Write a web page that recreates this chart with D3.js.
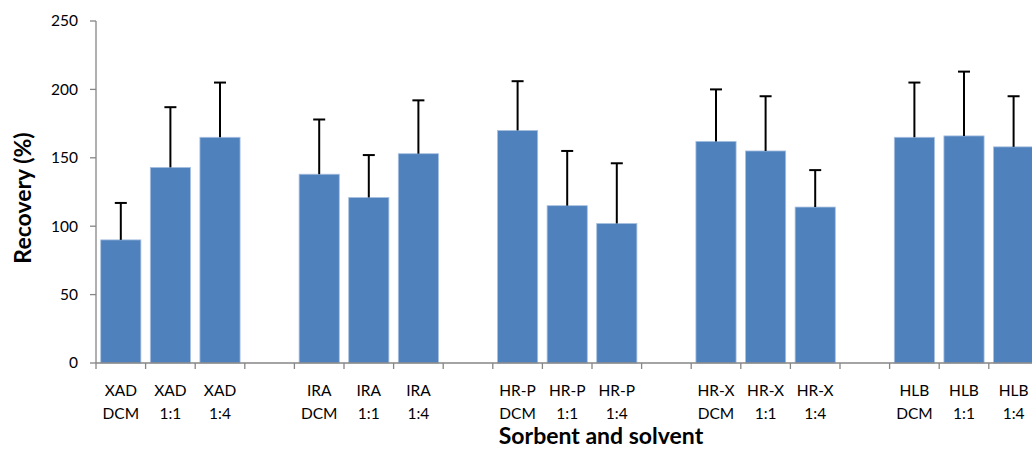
<!DOCTYPE html>
<html>
<head>
<meta charset="utf-8">
<script src="https://cdn.jsdelivr.net/npm/d3@7"></script>
<style>
  html, body { margin: 0; padding: 0; background: #fff; }
  svg { display: block; }
  text { font-family: Lato, "Open Sans", sans-serif; fill: #000; }
</style>
</head>
<body>
<svg id="chart" width="1032" height="451"></svg>
<script>
// ---- data ----
const sorbents = ["XAD", "IRA", "HR-P", "HR-X", "HLB"];
const solvents = ["DCM", "1:1", "1:4"];
const recovery = [
  90, 143, 165,
  138, 121, 153,
  170, 115, 102,
  162, 155, 114,
  165, 166, 158
];
const errorUp = [
  27, 44, 40,
  40, 31, 39,
  36, 40, 44,
  38, 40, 27,
  40, 47, 37
];
const yTicks = [0, 50, 100, 150, 200, 250];

// ---- build categories (with empty slots between groups) ----
const cats = [];
sorbents.forEach((s, gi) => {
  solvents.forEach((v, si) => {
    const i = gi * solvents.length + si;
    cats.push({ key: s + " " + v, top: s, bottom: v, value: recovery[i], err: errorUp[i] });
  });
  if (gi < sorbents.length - 1) cats.push({ key: "gap" + gi, top: "", bottom: "", value: null, err: null });
});

const svg = d3.select("#chart");
const x0 = 96, y0 = 363, yTop = 21;
const step = 49.6;
const pad = 0.19;
const x = d3.scaleBand()
  .domain(cats.map(d => d.key))
  .range([x0, x0 + step * cats.length])
  .paddingInner(pad)
  .paddingOuter(pad / 2);
const y = d3.scaleLinear().domain([0, 250]).range([y0, yTop]);

const axisColor = "#868686";

// y axis
svg.append("line").attr("x1", x0).attr("x2", x0).attr("y1", y(250)).attr("y2", y0)
  .attr("stroke", axisColor).attr("stroke-width", 1.3);
const yt = svg.append("g");
yTicks.forEach(t => {
  yt.append("line").attr("x1", x0 - 6).attr("x2", x0).attr("y1", y(t)).attr("y2", y(t))
    .attr("stroke", axisColor).attr("stroke-width", 1.3);
  yt.append("text").attr("x", 78).attr("y", y(t)).attr("dy", "0.35em")
    .attr("text-anchor", "end").attr("font-size", 15.5).text(t);
});

// bars
const bars = cats.filter(d => d.value !== null);
svg.append("g").selectAll("rect").data(bars).join("rect")
  .attr("x", d => x(d.key))
  .attr("width", x.bandwidth())
  .attr("y", d => y(d.value))
  .attr("height", d => y0 - y(d.value))
  .attr("fill", "#4f81bd")
  .attr("stroke", "#a9c1e0")
  .attr("stroke-width", 0.8);

// error bars (upper only)
const eg = svg.append("g").attr("stroke", "#000").attr("stroke-width", 2);
bars.forEach(d => {
  const cx = x(d.key) + x.bandwidth() / 2;
  eg.append("line").attr("x1", cx).attr("x2", cx).attr("y1", y(d.value)).attr("y2", y(d.value + d.err));
  eg.append("line").attr("x1", cx - 6).attr("x2", cx + 6).attr("y1", y(d.value + d.err)).attr("y2", y(d.value + d.err));
});

// x axis
svg.append("line").attr("x1", x0).attr("x2", 1032).attr("y1", y0).attr("y2", y0)
  .attr("stroke", axisColor).attr("stroke-width", 1.3);
const xt = svg.append("g");
const bounds = [x0].concat(cats.map(d => x(d.key) + x.bandwidth() + x.step() * pad / 2));
bounds.forEach(b => {
  xt.append("line").attr("x1", b).attr("x2", b).attr("y1", y0).attr("y2", y0 + 6)
    .attr("stroke", axisColor).attr("stroke-width", 1.3);
});
cats.forEach(d => {
  if (!d.top) return;
  const cx = x(d.key) + x.bandwidth() / 2;
  const t = xt.append("text").attr("text-anchor", "middle").attr("font-size", 15.5);
  t.append("tspan").attr("x", cx).attr("y", 396).text(d.top);
  t.append("tspan").attr("x", cx).attr("y", 418.5).text(d.bottom);
});

// titles
svg.append("text").attr("x", 601).attr("y", 444).attr("text-anchor", "middle")
  .attr("font-size", 23).attr("font-weight", "bold").text("Sorbent and solvent");
svg.append("text").attr("transform", "translate(31,198) rotate(-90)").attr("text-anchor", "middle")
  .attr("font-size", 23).attr("font-weight", "bold").text("Recovery (%)");
</script>
</body>
</html>
